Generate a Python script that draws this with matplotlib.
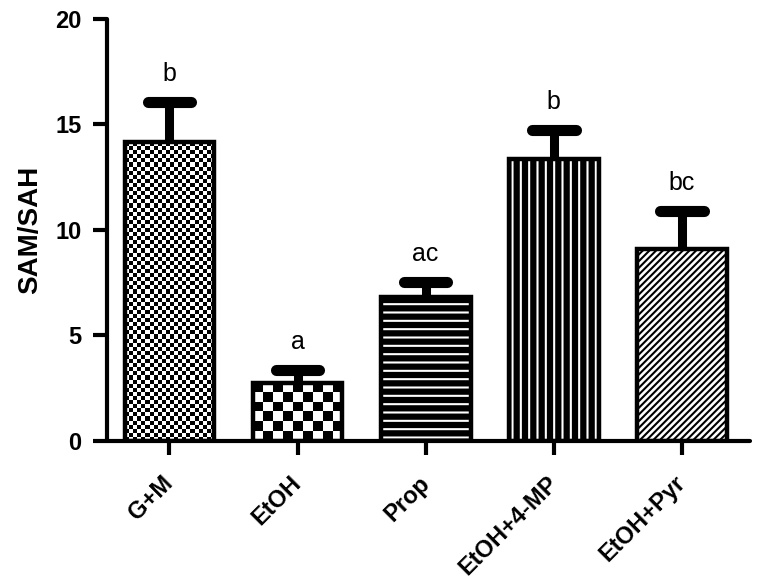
import numpy as np
import matplotlib
matplotlib.use("Agg")
import matplotlib.pyplot as plt
import matplotlib.transforms as mtransforms

groups = ["G+M", "EtOH", "Prop", "EtOH+4-MP", "EtOH+Pyr"]
means = [14.15, 2.75, 6.82, 13.36, 9.1]
sem = [1.92, 0.61, 0.72, 1.38, 1.8]
letters = ["b", "a", "ac", "b", "bc"]
yticks = [0, 5, 10, 15, 20]

plt.rcParams['font.family'] = ['Liberation Sans', 'DejaVu Sans']
plt.rcParams['hatch.linewidth'] = 1.5

fig = plt.figure(figsize=(7.62, 5.84), dpi=100)
ax = fig.add_axes([0.140, 0.245, 0.844, 0.7225])

x = np.arange(len(groups))
width = 0.70
lw = 3.2

# fond des barres : noir/blanc + hachures
fills = ['white', 'white', 'black', 'black', 'white']
hatch_col = ['white', 'white', 'white', 'white', 'black']
hatches = [None, None, '--', '||', '/////']
checker_cols = {0: 22, 1: 9}
for i in range(len(groups)):
    b = ax.bar(x[i], means[i], width, color=fills[i], edgecolor=hatch_col[i],
               hatch=hatches[i], linewidth=0, zorder=2)
    if i in checker_cols:
        # damier découpé à la forme de la barre
        ncol = checker_cols[i]
        nrow = max(1, int(round(means[i] / 20 * 422 / (90 / ncol))))
        chk = (np.add.outer(np.arange(nrow), np.arange(ncol)) % 2).astype(float)
        ax.imshow(chk, cmap='gray', extent=(x[i] - width / 2, x[i] + width / 2, 0, means[i]),
                  aspect='auto', interpolation='nearest', zorder=2,
                  clip_path=b.patches[0], vmin=0, vmax=1)

# contours
ax.bar(x, means, width, facecolor='none', edgecolor='black', linewidth=lw, zorder=3)

# barres d'erreur (vers le haut seulement)
tops = np.array(means) + np.array(sem)
ax.vlines(x, means, tops, color='black', linewidth=6.5, zorder=4)
ax.hlines(tops, x - 0.17, x + 0.17, color='black', linewidth=8, zorder=4,
          capstyle='round')

for xi, t, lt in zip(x, tops, letters):
    ax.text(xi, t + 0.75, lt, ha='center', va='bottom', fontsize=18)

ax.set_xlim(-0.49, 4.53)
ax.set_ylim(0, 20)
ax.set_yticks(yticks)
ax.set_yticklabels([str(v) for v in yticks], fontsize=17, fontweight='bold')
ax.set_xticks(x)
ax.set_xticklabels(groups, rotation=45, ha='right', rotation_mode='anchor',
                   fontsize=17, fontweight='bold')
ax.tick_params(axis='y', length=10, width=3, pad=8)
ax.tick_params(axis='x', length=10, width=3, pad=12)
shift = mtransforms.ScaledTranslation(-8 / 100, 0, fig.dpi_scale_trans)
for lbl in ax.get_xticklabels():
    lbl.set_transform(lbl.get_transform() + shift)
ax.set_ylabel("SAM/SAH", fontsize=20, fontweight='bold', labelpad=9)

for side in ['top', 'right']:
    ax.spines[side].set_visible(False)
for side in ['left', 'bottom']:
    ax.spines[side].set_linewidth(3)
    ax.spines[side].set_capstyle('round')

fig.savefig("out.png", dpi=100)
